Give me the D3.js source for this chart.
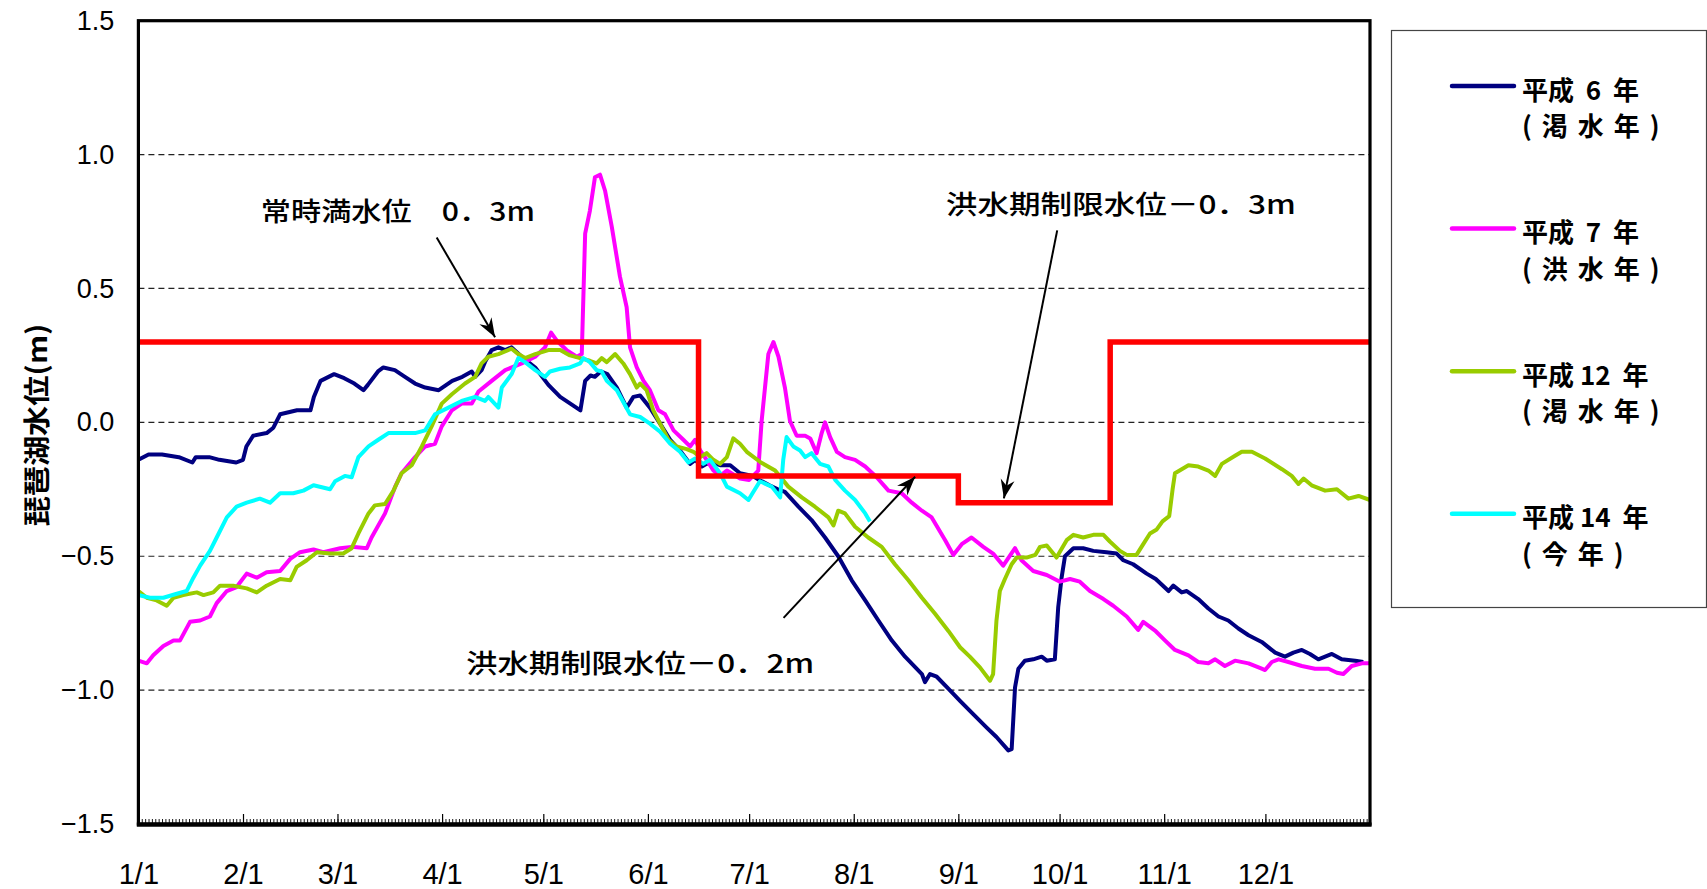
<!DOCTYPE html>
<html>
<head>
<meta charset="utf-8">
<script src="https://cdn.jsdelivr.net/npm/d3@7/dist/d3.min.js"></script>
<style>
  body { margin: 0; background: #fff; }
  svg { display: block; }
  .num { font-family: 'Liberation Sans', Arial, sans-serif; }
  .jp { font-family: 'Noto Sans CJK JP', sans-serif; }
</style>
</head>
<body>
<svg></svg>
<script>
// ---- data (day of year, 0 = 1/1; value = lake level in m) ----
const h6 = [[0,-0.14],[3,-0.12],[7,-0.12],[12,-0.13],[16,-0.15],[17,-0.13],[21,-0.13],[24,-0.14],[29,-0.15],[31,-0.14],[32,-0.09],[34,-0.05],[38,-0.04],[40,-0.02],[42,0.03],[47,0.045],[51,0.045],[52,0.095],[54,0.155],[58,0.18],[61,0.165],[64,0.145],[66.7,0.12],[68,0.14],[71,0.19],[72.6,0.205],[76,0.195],[79,0.17],[82,0.145],[85,0.13],[89,0.12],[93,0.155],[96,0.17],[98.8,0.19],[99.8,0.17],[101.7,0.195],[102.7,0.225],[104.7,0.27],[106.7,0.28],[108.7,0.27],[110.6,0.28],[113.6,0.245],[117.6,0.205],[121.5,0.14],[125,0.095],[128,0.07],[131,0.045],[132.4,0.155],[134,0.175],[135.3,0.17],[137,0.19],[139,0.18],[141.8,0.13],[144.7,0.055],[146.7,0.095],[148.7,0.1],[151.6,0.055],[154.6,-0.005],[157.6,-0.065],[160.5,-0.105],[163.5,-0.155],[165,-0.14],[167,-0.165],[168.4,-0.155],[170,-0.15],[172.4,-0.16],[175.4,-0.16],[178.3,-0.19],[182,-0.2],[184,-0.215],[187,-0.235],[189.5,-0.25],[191.6,-0.26],[195.6,-0.315],[199.5,-0.365],[203.5,-0.43],[207.4,-0.5],[211.4,-0.59],[215.4,-0.665],[219.3,-0.74],[223.3,-0.815],[227.2,-0.875],[232.2,-0.94],[233.1,-0.97],[234.6,-0.94],[236.6,-0.95],[240.1,-0.995],[243.5,-1.04],[247.4,-1.09],[251.4,-1.14],[254.3,-1.175],[257.8,-1.225],[258.8,-1.22],[259.8,-0.99],[260.8,-0.92],[262.7,-0.89],[265.2,-0.885],[267.7,-0.875],[269.2,-0.89],[271.6,-0.885],[272.6,-0.69],[273.6,-0.58],[274.6,-0.5],[277.1,-0.47],[280,-0.47],[283,-0.48],[286.9,-0.485],[289.9,-0.49],[291.9,-0.515],[294.8,-0.53],[298.8,-0.565],[301.5,-0.585],[305.3,-0.63],[306.7,-0.61],[309.2,-0.635],[310.7,-0.63],[314.1,-0.66],[317.1,-0.695],[320.1,-0.725],[323,-0.74],[326,-0.77],[329,-0.795],[332.9,-0.82],[336.9,-0.86],[339.8,-0.875],[342.3,-0.86],[344.8,-0.85],[347.2,-0.865],[349.7,-0.885],[353.7,-0.865],[356.6,-0.885],[360.6,-0.89],[363,-0.895]];

const h7 = [[0,-0.89],[2.5,-0.9],[4.4,-0.87],[7.4,-0.835],[10.4,-0.815],[12.3,-0.815],[15.3,-0.745],[18.3,-0.74],[21.2,-0.725],[23.2,-0.675],[26.2,-0.63],[29.1,-0.615],[32.1,-0.565],[35.1,-0.58],[38,-0.56],[42,-0.555],[45,-0.51],[47.9,-0.485],[51.9,-0.475],[54.8,-0.485],[59.8,-0.47],[63.2,-0.465],[67.7,-0.47],[69.1,-0.43],[73.1,-0.34],[76.1,-0.24],[78,-0.19],[82,-0.13],[85,-0.09],[87.9,-0.08],[89.9,-0.015],[92.9,0.045],[95.8,0.07],[98.8,0.07],[100.8,0.115],[104.7,0.155],[108.7,0.195],[113.6,0.22],[117.6,0.245],[120.5,0.28],[122.3,0.335],[124,0.305],[126.9,0.27],[129.9,0.245],[131.4,0.255],[132.4,0.705],[133.8,0.79],[135.3,0.915],[136.8,0.925],[138.3,0.865],[140.3,0.73],[142.7,0.545],[144.7,0.43],[145.7,0.28],[147.7,0.205],[149.7,0.155],[151.6,0.12],[154.1,0.045],[156.1,0.03],[158.6,-0.03],[161.5,-0.065],[163.5,-0.09],[165,-0.065],[166.5,-0.105],[168.4,-0.14],[170.4,-0.18],[172.4,-0.2],[174.4,-0.18],[178.3,-0.21],[181,-0.215],[183.7,-0.18],[184.7,0.005],[186.7,0.255],[188.2,0.3],[189.7,0.245],[191.6,0.13],[193.1,0.005],[195.1,-0.05],[197.6,-0.05],[199.1,-0.06],[201,-0.115],[202.5,-0.04],[203.5,0],[205,-0.055],[207,-0.11],[209.4,-0.13],[212.4,-0.14],[215.4,-0.165],[218.8,-0.205],[222.3,-0.255],[226.2,-0.265],[229.2,-0.3],[232.2,-0.33],[235.1,-0.355],[239.1,-0.44],[241.5,-0.495],[244,-0.455],[246.9,-0.43],[250.4,-0.465],[253.3,-0.49],[256.3,-0.535],[259.8,-0.47],[261.7,-0.515],[265.2,-0.555],[269.2,-0.57],[273.1,-0.595],[276.1,-0.585],[279,-0.595],[282,-0.63],[286,-0.66],[288.9,-0.685],[292.9,-0.725],[296.3,-0.775],[297.8,-0.745],[301.5,-0.78],[304.3,-0.815],[307.2,-0.85],[311.2,-0.87],[314.1,-0.895],[317.1,-0.9],[319.1,-0.885],[322,-0.91],[325,-0.89],[329,-0.9],[332.9,-0.92],[333.9,-0.925],[335.9,-0.895],[337.9,-0.885],[340.8,-0.895],[344.8,-0.91],[348.7,-0.92],[352.7,-0.92],[355.2,-0.935],[357.1,-0.94],[359.6,-0.91],[362.6,-0.9],[365,-0.9]];

const h12 = [[0,-0.63],[2.5,-0.655],[5.4,-0.665],[8.4,-0.685],[10.4,-0.655],[13.3,-0.645],[17.3,-0.635],[19.3,-0.645],[22.2,-0.635],[24.2,-0.61],[28.1,-0.61],[32.1,-0.62],[35.1,-0.635],[38,-0.61],[42,-0.585],[45,-0.59],[46.9,-0.54],[49.9,-0.515],[52.9,-0.485],[56.8,-0.49],[60.7,-0.49],[63.2,-0.47],[65.2,-0.415],[68.2,-0.34],[70.1,-0.31],[73.1,-0.305],[75.6,-0.255],[78,-0.19],[81,-0.16],[84,-0.09],[86.9,-0.015],[89.9,0.07],[92.9,0.105],[96.8,0.145],[99.8,0.17],[101.7,0.22],[103.7,0.245],[106.7,0.255],[110.6,0.275],[112.6,0.255],[114.6,0.24],[117.6,0.255],[121.5,0.27],[125,0.27],[127.9,0.25],[130.9,0.24],[133.8,0.23],[135.8,0.22],[137.3,0.24],[138.8,0.225],[141.3,0.255],[143.7,0.22],[145.7,0.18],[147.7,0.13],[148.7,0.145],[150.6,0.12],[152.6,0.045],[154.6,-0.005],[157.1,-0.065],[159.5,-0.09],[162.5,-0.1],[164.5,-0.11],[166.5,-0.13],[168.4,-0.115],[170.4,-0.14],[172.4,-0.155],[174.4,-0.13],[176.3,-0.06],[178.3,-0.08],[180.3,-0.11],[184.5,-0.15],[188.7,-0.18],[192.6,-0.24],[196.6,-0.28],[200.5,-0.315],[204.5,-0.355],[206,-0.385],[207.4,-0.33],[209.4,-0.34],[212.4,-0.39],[216.3,-0.43],[220.3,-0.465],[224.2,-0.53],[228.2,-0.59],[232.2,-0.655],[236.1,-0.715],[240.1,-0.78],[243.5,-0.84],[246.4,-0.875],[249.4,-0.915],[252.4,-0.965],[253.3,-0.94],[254.3,-0.74],[255.3,-0.63],[256.8,-0.585],[258.8,-0.53],[260.3,-0.505],[263.2,-0.505],[265.8,-0.495],[267.2,-0.465],[269.2,-0.46],[272.1,-0.505],[275.1,-0.44],[277.1,-0.42],[280,-0.43],[283,-0.42],[286,-0.42],[287.9,-0.445],[290.9,-0.48],[292.9,-0.495],[295.8,-0.495],[297.8,-0.455],[299.8,-0.415],[301.8,-0.4],[303.5,-0.37],[305.5,-0.35],[306.5,-0.25],[307.2,-0.19],[311.2,-0.16],[314.1,-0.165],[317.1,-0.18],[319.1,-0.2],[321.1,-0.155],[325,-0.125],[327,-0.11],[330,-0.11],[333.9,-0.135],[338.9,-0.175],[341.8,-0.2],[343.8,-0.23],[345.3,-0.21],[347.7,-0.235],[351.7,-0.255],[355.2,-0.25],[358.6,-0.285],[361.6,-0.275],[365,-0.29]];

const h14 = [[0,-0.645],[3.4,-0.655],[7.4,-0.655],[11.4,-0.64],[14.3,-0.63],[16.3,-0.58],[18.3,-0.535],[21.2,-0.48],[23.2,-0.43],[26.2,-0.355],[29.1,-0.315],[32.1,-0.3],[36,-0.285],[39,-0.3],[42,-0.265],[45.9,-0.265],[48.9,-0.255],[51.9,-0.235],[56.8,-0.25],[58.3,-0.22],[61.2,-0.2],[63.2,-0.205],[65.2,-0.13],[68.2,-0.09],[71.1,-0.065],[74.1,-0.04],[78,-0.04],[82,-0.04],[85,-0.03],[87.9,0.03],[91.9,0.055],[95.8,0.08],[99.8,0.095],[102.7,0.08],[103.7,0.095],[106.7,0.055],[107.7,0.13],[110.6,0.18],[112.6,0.24],[114.6,0.225],[117.6,0.195],[120.5,0.17],[122,0.19],[125,0.2],[127.9,0.205],[130.9,0.22],[131.9,0.24],[133.8,0.225],[135.8,0.195],[137.3,0.19],[138.8,0.155],[141.8,0.12],[145.7,0.03],[148.7,0.02],[151.6,-0.005],[154.6,-0.035],[157.6,-0.08],[160.5,-0.11],[163,-0.15],[165,-0.135],[167.4,-0.155],[169.4,-0.14],[172.4,-0.19],[174.4,-0.24],[178.3,-0.265],[180.8,-0.29],[182,-0.265],[184.2,-0.22],[187.7,-0.24],[190.2,-0.28],[191.1,-0.14],[192.1,-0.055],[194.1,-0.09],[196.1,-0.105],[197.6,-0.13],[199.5,-0.115],[202,-0.155],[204.5,-0.165],[206.5,-0.215],[209.4,-0.255],[212.4,-0.29],[215.4,-0.34],[216.8,-0.37]];

// restriction water level (step): change days and levels
const limitDays = [0, 166, 243, 288, 365];
const limitLevels = [0.3, -0.2, -0.3, 0.3, 0.3];

const seriesNames = ['平成  6  年', '平成  7  年', '平成 12  年', '平成 14  年'];
const seriesNotes = ['(渇水年)', '(洪水年)', '(渇水年)', '(今年)'];
const monthLabels = ['1/1','2/1','3/1','4/1','5/1','6/1','7/1','8/1','9/1','10/1','11/1','12/1'];
const yTicks = [1.5, 1.0, 0.5, 0.0, -0.5, -1.0, -1.5];
const gridLevels = [1.0, 0.5, 0.0, -0.5, -1.0];
const yTitle = '琵琶湖水位(m)';
const noteLabels = ['常時満水位　0．3m', '洪水期制限水位－0．3m', '洪水期制限水位－0．2m'];

// ---- layout ----
const width = 1707, height = 889;
const svg = d3.select('svg').attr('width', width).attr('height', height);

const x = d3.scaleLinear().domain([0, 365]).range([138.4, 1370]);
const y = d3.scaleLinear().domain([-1.5, 1.5]).range([824, 20.7]);

const year0 = new Date(2002, 0, 1);
const monthStarts = d3.timeMonths(year0, new Date(2003, 0, 1))
  .map((d) => d3.timeDay.count(year0, d));

// dashed grid
svg.append('g')
  .selectAll('line')
  .data(gridLevels)
  .join('line')
  .attr('x1', x(0))
  .attr('x2', x(365))
  .attr('y1', (d) => y(d))
  .attr('y2', (d) => y(d))
  .attr('stroke', '#222')
  .attr('stroke-width', 1.2)
  .attr('stroke-dasharray', '6,4');

// series lines
const line = d3.line().x((d) => x(d[0])).y((d) => y(d[1]));
const colors = ['#000080', '#ff00ff', '#99cc00', '#00ffff'];
const series = [h6, h7, h12, h14];

svg.append('g')
  .selectAll('path')
  .data(series)
  .join('path')
  .attr('d', line)
  .attr('fill', 'none')
  .attr('stroke', (d, i) => colors[i])
  .attr('stroke-width', 4)
  .attr('stroke-linejoin', 'round');

// restriction level (red step line)
const limit = limitDays.map((d, i) => [d, limitLevels[i]]);
svg.append('path')
  .attr('d', d3.line().x((d) => x(d[0])).y((d) => y(d[1])).curve(d3.curveStepAfter)(limit))
  .attr('fill', 'none')
  .attr('stroke', '#ff0000')
  .attr('stroke-width', 5.5);

// frame
svg.append('rect')
  .attr('x', x(0))
  .attr('y', y(1.5))
  .attr('width', x(365) - x(0))
  .attr('height', y(-1.5) - y(1.5))
  .attr('fill', 'none')
  .attr('stroke', '#000')
  .attr('stroke-width', 3.2);
svg.append('line')
  .attr('x1', x(0) - 1.6).attr('x2', x(365) + 1.6)
  .attr('y1', y(-1.5) + 0.6).attr('y2', y(-1.5) + 0.6)
  .attr('stroke', '#000').attr('stroke-width', 4.4);

// y axis
const yAxis = svg.append('g')
  .attr('transform', `translate(${x(0)},0)`)
  .call(d3.axisLeft(y).tickValues(yTicks).tickSize(0).tickPadding(24).tickFormat(d3.format('.1f')));
yAxis.select('.domain').remove();
yAxis.selectAll('text').attr('class', 'num').attr('font-size', 27).attr('fill', '#000');

// x axis: daily minor ticks, monthly major ticks
const xMinor = svg.append('g')
  .attr('transform', `translate(0,${y(-1.5)})`)
  .call(d3.axisBottom(x).tickValues(d3.range(1, 365)).tickSize(-5).tickFormat(''));
xMinor.select('.domain').remove();
xMinor.selectAll('line').attr('stroke', '#000').attr('stroke-width', 0.9);

const xMajor = svg.append('g')
  .attr('transform', `translate(0,${y(-1.5)})`)
  .call(d3.axisBottom(x).tickValues(monthStarts).tickSize(-10).tickPadding(39)
    .tickFormat((d, i) => monthLabels[i]));
xMajor.select('.domain').remove();
xMajor.selectAll('line').attr('stroke', '#000').attr('stroke-width', 1.2);
xMajor.selectAll('text').attr('class', 'num').attr('font-size', 29).attr('fill', '#000');

// y title
svg.append('text')
  .attr('class', 'jp')
  .attr('transform', 'translate(35,425) rotate(-90)')
  .attr('text-anchor', 'middle')
  .attr('dominant-baseline', 'central')
  .attr('font-size', 27)
  .attr('font-weight', 'bold')
  .attr('textLength', 203)
  .attr('lengthAdjust', 'spacingAndGlyphs')
  .text(yTitle);

// annotations with arrows
const defs = svg.append('defs');
defs.append('marker')
  .attr('id', 'head')
  .attr('viewBox', '-20 -8 22 16')
  .attr('refX', 0)
  .attr('refY', 0)
  .attr('markerUnits', 'userSpaceOnUse')
  .attr('markerWidth', 22)
  .attr('markerHeight', 16)
  .attr('orient', 'auto')
  .append('path')
  .attr('d', 'M0,0 L-19,-7 L-13,0 L-19,7 Z')
  .attr('fill', '#000');

const notes = [
  { text: noteLabels[0], tx: 36.3, ty: 0.796, w: 274, from: [88.4, 0.69], to: [105.7, 0.318] },
  { text: noteLabels[1], tx: 239.3, ty: 0.822, w: 350, from: [272.3, 0.717], to: [256.5, -0.284] },
  { text: noteLabels[2], tx: 97.1, ty: -0.893, w: 348, from: [191.2, -0.73], to: [230.2, -0.203] }
];

const ng = svg.append('g');
ng.selectAll('line')
  .data(notes)
  .join('line')
  .attr('x1', (d) => x(d.from[0]))
  .attr('y1', (d) => y(d.from[1]))
  .attr('x2', (d) => x(d.to[0]))
  .attr('y2', (d) => y(d.to[1]))
  .attr('stroke', '#000')
  .attr('stroke-width', 2)
  .attr('marker-end', 'url(#head)');
ng.selectAll('text')
  .data(notes)
  .join('text')
  .attr('class', 'jp')
  .attr('x', (d) => x(d.tx))
  .attr('y', (d) => y(d.ty))
  .attr('dominant-baseline', 'central')
  .attr('font-size', 26)
  .attr('font-weight', 500)
  .attr('textLength', (d) => d.w)
  .attr('lengthAdjust', 'spacingAndGlyphs')
  .attr('fill', '#000')
  .text((d) => d.text);

// legend
const legend = svg.append('g');
legend.append('rect')
  .attr('x', 1391.5)
  .attr('y', 30.5)
  .attr('width', 315)
  .attr('height', 577)
  .attr('fill', '#fff')
  .attr('stroke', '#444')
  .attr('stroke-width', 1.2);

const items = legend.selectAll('g.item')
  .data(seriesNames)
  .join('g')
  .attr('class', 'item')
  .attr('transform', (d, i) => `translate(0,${86 + i * 142.6})`);
items.append('line')
  .attr('x1', 1452).attr('x2', 1514)
  .attr('stroke', (d, i) => colors[i])
  .attr('stroke-width', 4.5)
  .attr('stroke-linecap', 'round');
items.append('text')
  .attr('class', 'jp')
  .attr('x', 1522)
  .attr('y', 2)
  .attr('dominant-baseline', 'central')
  .attr('font-size', 26)
  .attr('font-weight', 'bold')
  .style('white-space', 'pre')
  .text((d) => d);
items.append('text')
  .attr('class', 'jp')
  .attr('x', 1522)
  .attr('y', 38.5)
  .attr('dominant-baseline', 'central')
  .attr('font-size', 26)
  .attr('font-weight', 'bold')
  .attr('letter-spacing', 10)
  .text((d, i) => seriesNotes[i]);
</script>
</body>
</html>
